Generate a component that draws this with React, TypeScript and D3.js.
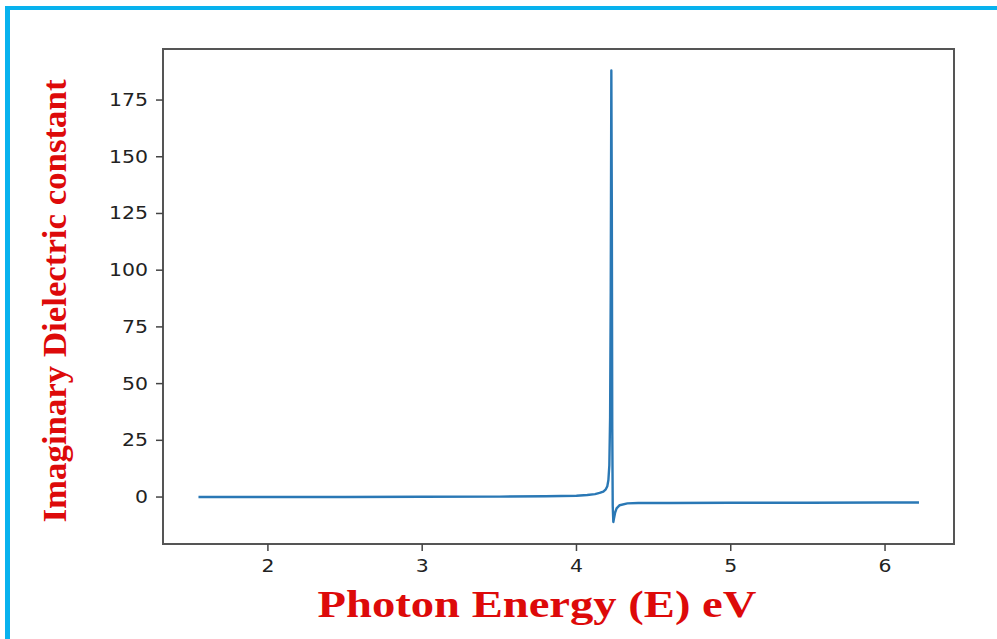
import React from "react";
import * as d3 from "d3";

// photon energy (eV) and imaginary dielectric constant
const energy = [
  1.55, 2.0, 2.5, 3.0, 3.5, 3.8, 4.0, 4.07, 4.12, 4.15, 4.174, 4.19, 4.2, 4.207,
  4.213, 4.218, 4.222, 4.226, 4.229, 4.232, 4.235, 4.239, 4.243, 4.25, 4.26,
  4.28, 4.33, 4.4, 4.6, 5.0, 5.5, 6.0, 6.22,
];
const epsImag = [
  0.0, 0.02, 0.05, 0.1, 0.2, 0.35, 0.55, 0.9, 1.3, 1.8, 2.4, 3.4, 4.8, 7.5,
  14, 35, 90, 188, 130, 30, -4, -11, -9.5, -7, -5, -3.6, -2.8, -2.6, -2.6,
  -2.5, -2.5, -2.4, -2.4,
];
const xTicks = [2, 3, 4, 5, 6];
const yTicks = [0, 25, 50, 75, 100, 125, 150, 175];

const W = 997;
const H = 639;
const box = { left: 163, right: 954, top: 49, bottom: 544 };

const App = () => {
  const x = d3.scaleLinear().domain([1.32, 6.447]).range([box.left, box.right]);
  const y = d3.scaleLinear().domain([-20.7, 197.5]).range([box.bottom, box.top]);
  const pts = energy.map((e, i) => [e, epsImag[i]] as [number, number]);
  const line = d3
    .line<[number, number]>()
    .x(d => x(d[0]))
    .y(d => y(d[1]));

  const tickFont = "'DejaVu Sans', sans-serif";
  const labelFont = "'Liberation Serif', 'Times New Roman', serif";

  return (
    <svg
      width={W}
      height={H}
      style={{ position: "absolute", left: 0, top: 0, background: "#fff" }}
    >
      {/* frame of the picture */}
      <rect x={5} y={6} width={W - 5} height={4} fill="#08B2EE" />
      <rect x={5} y={6} width={5} height={H - 6} fill="#08B2EE" />

      <path
        d={line(pts) || ""}
        fill="none"
        stroke="#2a78b5"
        strokeWidth={2.4}
        strokeLinejoin="round"
      />

      <rect
        x={box.left}
        y={box.top}
        width={box.right - box.left}
        height={box.bottom - box.top}
        fill="none"
        stroke="#555"
        strokeWidth={2}
      />

      {yTicks.map(t => (
        <g key={"y" + t}>
          <line x1={box.left - 7} x2={box.left} y1={y(t)} y2={y(t)} stroke="#444" strokeWidth={1.5} />
          <text
            x={148}
            y={y(t)}
            textAnchor="end"
            dominantBaseline="central"
            fontFamily={tickFont}
            fontSize={17}
            fill="#222"
            textLength={String(t).length * 13}
            lengthAdjust="spacingAndGlyphs"
          >
            {t}
          </text>
        </g>
      ))}

      {xTicks.map(t => (
        <g key={"x" + t}>
          <line x1={x(t)} x2={x(t)} y1={box.bottom} y2={box.bottom + 7} stroke="#444" strokeWidth={1.5} />
          <text
            x={x(t)}
            y={572}
            textAnchor="middle"
            fontFamily={tickFont}
            fontSize={17}
            fill="#222"
            textLength={13}
            lengthAdjust="spacingAndGlyphs"
          >
            {t}
          </text>
        </g>
      ))}

      <text
        x={537}
        y={617}
        textAnchor="middle"
        fontFamily={labelFont}
        fontWeight="bold"
        fontSize={37}
        fill="#DD0A0A"
        textLength={439}
        lengthAdjust="spacingAndGlyphs"
      >
        Photon Energy (E) eV
      </text>

      <text
        transform="translate(66,301) rotate(-90)"
        textAnchor="middle"
        fontFamily={labelFont}
        fontWeight="bold"
        fontSize={34}
        fill="#DD0A0A"
        textLength={443}
        lengthAdjust="spacingAndGlyphs"
      >
        Imaginary Dielectric constant
      </text>
    </svg>
  );
};

export default App;
